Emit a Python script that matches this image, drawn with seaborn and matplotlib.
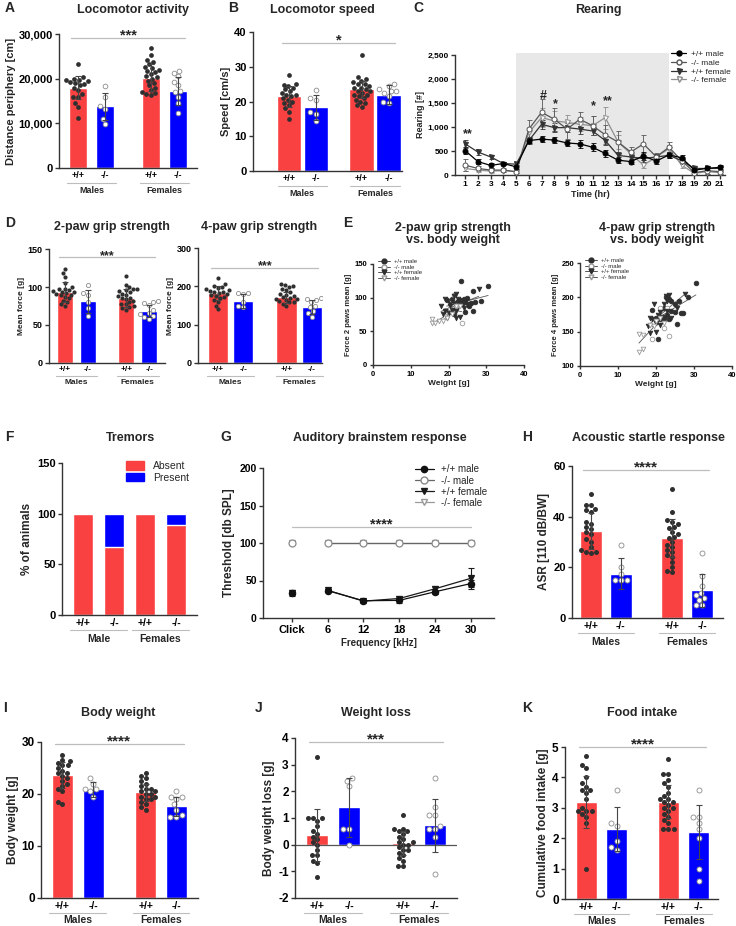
import matplotlib
matplotlib.use('Agg')
import matplotlib.pyplot as plt
import matplotlib.transforms as mtransforms
from matplotlib.patches import Patch
from matplotlib.lines import Line2D
from matplotlib.ticker import StrMethodFormatter
import numpy as np
import pandas as pd
import seaborn as sns

# ---------------- data ----------------
GENO = ['wt_m', 'ko_m', 'wt_f', 'ko_f']
XLABELS = ['+/+', '-/-', '+/+', '-/-']

# A locomotor activity (distance periphery, cm)
loco_pts = [
    [23300, 20300, 20000, 19800, 19600, 19500, 19200, 19000, 18800, 18500, 18000, 17500, 16500, 16000, 15800, 14500, 13700, 11300],
    [18300, 15800, 13800, 13300, 11000, 9800],
    [26800, 25200, 24200, 23800, 23200, 22700, 22300, 22000, 21800, 21500, 21000, 20500, 20300, 20000, 19500, 19000, 18500, 18000, 17500, 17000, 16800, 16500, 16300],
    [21800, 21300, 20500, 19300, 18500, 17200, 17000, 16000, 14500, 12300],
]
loco_mean = [18000, 13800, 20200, 17200]
loco_sd = [2500, 3000, 3000, 3200]

# B locomotor speed (cm/s)
speed_pts = [
    [27.5, 25, 24.8, 24.5, 24, 23.5, 23, 22.5, 22, 22, 21.5, 21, 20.5, 20, 19.5, 19, 18, 17, 15],
    [23.2, 21, 20.5, 17, 16.5, 14.5],
    [33.3, 27, 26.5, 26, 25.5, 25, 25, 24.5, 24, 24, 23.5, 23, 23, 22.5, 22, 22, 21.5, 21, 20.5, 20, 19.5, 19, 18.5],
    [25, 24.5, 23.5, 23, 23, 22.5, 21.5, 20, 19.5],
]
speed_mean = [21.5, 18.3, 23.5, 22.0]
speed_sd = [3.0, 3.6, 2.4, 2.8]

# C rearing per hour
hours = list(range(1, 22))
rear_wt_m = [510, 280, 200, 240, 170, 720, 750, 730, 670, 650, 580, 450, 310, 280, 400, 290, 420, 360, 100, 140, 160]
rear_ko_m = [205, 137, 103, 103, 70, 960, 1310, 1165, 960, 1165, 1030, 840, 690, 480, 650, 380, 580, 300, 50, 90, 70]
rear_wt_f = [650, 480, 377, 240, 226, 720, 1060, 990, 990, 960, 920, 720, 410, 377, 343, 377, 410, 300, 137, 137, 137]
rear_ko_f = [137, 103, 82, 90, 70, 890, 1200, 1130, 1100, 1060, 1030, 1200, 690, 445, 205, 377, 550, 205, 35, 70, 50]
rear_err_wt_m = [80, 60, 50, 40, 40, 60, 70, 70, 70, 80, 80, 80, 60, 60, 80, 60, 60, 60, 40, 40, 40]
rear_err_ko_m = [130, 60, 40, 40, 30, 180, 280, 240, 200, 160, 200, 200, 220, 100, 180, 90, 100, 80, 20, 60, 40]
rear_err_wt_f = [90, 60, 40, 40, 40, 80, 90, 100, 90, 100, 90, 100, 80, 60, 70, 60, 60, 60, 30, 30, 30]
rear_err_ko_f = [60, 40, 30, 30, 30, 100, 200, 200, 150, 150, 200, 230, 150, 80, 60, 60, 80, 60, 20, 40, 20]
rear_stars = [(1.2, 860, '**'), (7.1, 1660, '#'), (8.1, 1480, '*'), (11.1, 1440, '*'), (12.2, 1540, '**')]

# D grip strength
grip2_pts = [
    [124, 118, 113, 105, 100, 98, 97, 96, 95, 94, 93, 92, 91, 90, 89, 87, 85, 82, 80, 77, 75],
    [103, 92, 90, 80, 72, 62],
    [115, 103, 100, 98, 97, 96, 95, 93, 91, 90, 88, 86, 85, 84, 82, 80, 78, 77, 75, 74, 72, 70],
    [81, 80, 79, 76, 70, 66, 64, 62, 60, 58],
]
grip2_mean = [93, 81, 86, 68]
grip2_sd = [13, 15, 12, 8]
grip4_pts = [
    [222, 205, 200, 197, 195, 192, 190, 188, 186, 185, 183, 180, 178, 175, 172, 170, 165, 160, 150, 140],
    [183, 182, 180, 160, 150, 145],
    [205, 203, 200, 198, 193, 190, 185, 180, 178, 175, 172, 170, 168, 166, 165, 162, 160, 158, 155, 150],
    [170, 168, 165, 160, 150, 145, 135, 130, 120],
]
grip4_mean = [183, 162, 171, 147]
grip4_sd = [18, 18, 15, 18]

# E grip strength vs body weight
e2_wt_m_x = [23.3, 30.5, 26.5, 28.5, 25.0, 24.0, 23.0, 22.5, 21.0, 24.5, 26.0, 27.0, 25.5, 24.5, 26.5, 20.0, 19.5, 21.5, 23.5, 22.0]
e2_wt_m_y = [125, 117, 110, 95, 100, 98, 97, 95, 98, 93, 92, 93, 88, 78, 80, 80, 96, 75, 90, 85]
e2_ko_m_x = [23.5, 21.5, 20.0, 19.0, 22.0, 20.5]
e2_ko_m_y = [62, 104, 78, 73, 88, 85]
e2_wt_f_x = [28.0, 22.0, 21.5, 19.0, 18.0, 20.5, 22.0, 18.5, 22.0, 23.0, 19.5, 24.0, 25.0, 21.0, 20.0, 23.5, 19.0, 21.5, 22.5, 20.5]
e2_wt_f_y = [113, 105, 103, 98, 87, 90, 80, 75, 70, 72, 70, 85, 90, 82, 77, 95, 80, 92, 98, 88]
e2_ko_f_x = [15.5, 15.5, 16.5, 17.5, 18.5, 19.5, 21.0, 22.0, 23.0]
e2_ko_f_y = [68, 62, 63, 65, 65, 70, 75, 88, 87]

e4_wt_m_x = [30.5, 28.5, 26.0, 25.0, 24.0, 23.5, 22.5, 26.5, 27.0, 25.5, 20.5, 21.0, 22.0, 23.0, 24.0, 19.0, 20.0, 22.0, 23.5, 25.0]
e4_wt_m_y = [221, 200, 195, 190, 195, 198, 200, 177, 177, 161, 140, 168, 170, 175, 180, 182, 170, 185, 168, 178]
e4_ko_m_x = [21.0, 23.0, 23.5, 19.0, 20.0, 22.0]
e4_ko_m_y = [185, 185, 143, 140, 165, 155]
e4_wt_f_x = [27.5, 23.5, 22.5, 23.0, 19.5, 21.0, 18.0, 18.5, 20.0, 21.0, 22.0, 24.0, 19.0, 20.5, 22.0, 18.5, 25.5, 21.5, 23.0, 20.0]
e4_wt_f_y = [205, 203, 202, 195, 190, 178, 158, 148, 150, 160, 165, 170, 168, 175, 190, 170, 185, 172, 180, 162]
e4_ko_f_x = [15.5, 16.5, 15.5, 16.5, 18.5, 20.0, 21.0, 19.5, 22.0]
e4_ko_f_y = [147, 145, 120, 125, 160, 165, 170, 158, 163]

# F tremors (% of animals)
tremor_absent = [100, 66.7, 100, 88.9]
tremor_present = [0, 33.3, 0, 11.1]

# G auditory brainstem response
freq_labels = ['Click', '6', '12', '18', '24', '30']
abr_wt_m = [34, 36.5, 23, 23.5, 35, 46]
abr_wt_m_err = [4, 2, 2, 3, 3, 5]
abr_wt_f = [34, 37, 22.5, 26, 39, 53]
abr_wt_f_err = [3, 2, 2, 3, 4, 14]
abr_ko_m = [100, 100, 100, 100, 100, 100]
abr_ko_f = [100, 100, 100, 100, 100, 100]

# H acoustic startle
asr_pts = [
    [49, 44.5, 44.5, 43, 42.5, 42, 38, 37, 36, 35, 34, 33, 31, 30, 28, 27, 26, 26, 25.5],
    [29, 20, 17.5, 15, 15, 15],
    [51, 42, 38.5, 38, 37, 36, 35.5, 34, 33, 32, 31.5, 30, 29, 28, 27, 26, 25, 24, 22, 20, 18.5, 18],
    [25.5, 16.5, 12.5, 10, 9, 8, 7, 5, 5],
]
asr_mean = [34.3, 17.5, 31.5, 11.0]
asr_sd = [7.0, 6.0, 7.5, 6.5]

# I body weight
bw_pts = [
    [27.5, 26.5, 26.3, 26, 25.5, 25.5, 25, 24.5, 24, 24, 23.5, 23, 22.5, 22, 21.5, 21, 20.5, 18.5, 18],
    [23, 22, 21, 21, 20.5, 19.5],
    [24, 23.5, 23, 22.5, 22, 21.5, 21, 21, 20.5, 20.5, 20, 20, 19.5, 19.5, 19, 19, 18.5, 18, 17.5, 17],
    [20.5, 19.5, 19.5, 19, 18, 17, 16, 15.5, 15.5],
]
bw_mean = [23.7, 20.9, 20.3, 17.6]
bw_sd = [2.5, 1.5, 1.6, 1.8]

# J weight loss
wl_pts = [
    [3.3, 1.0, 1.0, 1.0, 0.9, 0.7, 0.5, 0.4, 0.3, 0.2, 0.1, 0.0, -0.2, -0.4, -0.4, -0.6, -0.7, -1.2],
    [2.5, 2.4, 2.2, 0.6, 0.6, 0.0],
    [1.1, 0.6, 0.6, 0.5, 0.5, 0.4, 0.3, 0.2, 0.1, 0.1, 0.0, 0.0, -0.1, -0.2, -0.2, -0.3, -0.4, -0.5, -0.6, -0.8, -0.8],
    [2.5, 1.4, 1.1, 1.1, 0.7, 0.6, 0.6, 0.3, -1.1],
]
wl_mean = [0.35, 1.4, 0.05, 0.73]
wl_sd = [0.98, 1.1, 0.45, 1.0]

# K food intake
food_pts = [
    [4.7, 4.4, 4.3, 4.0, 3.8, 3.7, 3.6, 3.6, 3.5, 3.3, 3.0, 2.9, 2.9, 2.9, 2.8, 2.7, 2.5, 1.0],
    [3.6, 2.5, 2.4, 1.9, 1.7, 1.6],
    [4.6, 4.1, 4.1, 3.9, 3.8, 3.7, 3.5, 3.4, 3.3, 3.3, 3.2, 3.2, 3.1, 3.0, 3.0, 2.9, 2.8, 2.7, 2.6, 2.5, 2.3, 2.3, 2.3],
    [3.6, 2.7, 2.7, 2.5, 2.3, 2.0, 1.0, 0.6],
]
food_mean = [3.2, 2.3, 3.2, 2.2]
food_sd = [0.85, 0.73, 0.55, 0.9]

# ---------------- style ----------------
RED, BLUE = '#f94141', '#0000ff'
DOT = '#2f2f2f'
PAL = {'wt_m': RED, 'ko_m': BLUE, 'wt_f': RED, 'ko_f': BLUE}
POS = [0, 1, 2.7, 3.7]

sns.set_style('ticks')
plt.rcParams['font.family'] = ['Liberation Sans', 'DejaVu Sans']
plt.rcParams['font.weight'] = 'bold'
plt.rcParams['axes.labelweight'] = 'bold'
plt.rcParams['axes.edgecolor'] = '#333333'
plt.rcParams['axes.linewidth'] = 1.0
plt.rcParams['axes.unicode_minus'] = False
plt.rcParams['xtick.color'] = '#333333'
plt.rcParams['ytick.color'] = '#333333'
plt.rcParams['xtick.labelcolor'] = 'black'
plt.rcParams['ytick.labelcolor'] = 'black'

W, H = 736, 926
fig = plt.figure(figsize=(W / 100, H / 100), dpi=100)


def box(l, t, r, b):
    return fig.add_axes([l / W, 1 - b / H, (r - l) / W, (b - t) / H])


def ftext(x, y, s, size=9, **kw):
    fig.text(x / W, 1 - y / H, s, fontsize=size, fontweight='bold', ha=kw.pop('ha', 'center'),
             va=kw.pop('va', 'center'), **kw)


def style_axis(ax, tick_fs):
    sns.despine(ax=ax)
    ax.tick_params(axis='y', length=3, width=1, labelsize=tick_fs, pad=1.5)
    ax.tick_params(axis='x', width=1)


def groups_below(ax, pairs, names, fs, offs):
    line_tr = mtransforms.offset_copy(ax.get_xaxis_transform(), fig=fig, y=-offs[0], units='points')
    text_tr = mtransforms.offset_copy(ax.get_xaxis_transform(), fig=fig, y=-offs[1], units='points')
    for (a, b), name in zip(pairs, names):
        ax.plot([a - 0.42, b + 0.42], [0, 0], transform=line_tr, color='#bdbdbd', lw=0.8, clip_on=False)
        ax.text((a + b) / 2, 0, name, transform=text_tr, ha='center', va='center', fontsize=fs)


def sig(ax, x0, x1, y, stars, fs=10.5):
    ax.plot([x0, x1], [y, y], color='#bdbdbd', lw=0.9, clip_on=False, zorder=5)
    ax.annotate(stars, ((x0 + x1) / 2, y), xytext=(0, -1), textcoords='offset points',
                ha='center', va='baseline', fontsize=fs, annotation_clip=False)


def bar_panel(ax, pts, means, sds, ylabel, yticks, sig_y, stars, width=0.68, xlim=(-0.7, 4.4),
              names=('Males', 'Females'), fs=(8, 8, 6.5), offs=(10.5, 16), fmt=None, dot=3.4, star_fs=10.5):
    bars = pd.DataFrame({'pos': POS, 'mean': means, 'geno': GENO})
    sns.barplot(data=bars, x='pos', y='mean', hue='geno', palette=PAL, native_scale=True, width=width,
                saturation=1, errorbar=None, legend=False, ax=ax, zorder=1)
    rows = [(p, v, g) for p, g, vals in zip(POS, GENO, pts) for v in vals]
    df = pd.DataFrame(rows, columns=['pos', 'val', 'geno'])
    wt = df[df['geno'].str.startswith('wt')]
    ko = df[df['geno'].str.startswith('ko')]
    sns.swarmplot(data=wt, x='pos', y='val', native_scale=True, color=DOT, size=dot, linewidth=0,
                  ax=ax, zorder=3, warn_thresh=1)
    sns.swarmplot(data=ko, x='pos', y='val', native_scale=True, color='white', edgecolor='#8c8c8c',
                  linewidth=0.6, size=dot, ax=ax, zorder=3, warn_thresh=1)
    ax.errorbar(POS, means, yerr=sds, fmt='none', ecolor='#454545', elinewidth=0.8, capsize=2.5,
                capthick=0.8, zorder=4)
    ax.set_xlim(*xlim)
    ax.set_ylim(yticks[0], yticks[-1])
    ax.set_yticks(yticks)
    if fmt:
        ax.yaxis.set_major_formatter(StrMethodFormatter(fmt))
    ax.set_xticks(POS)
    ax.set_xticklabels(XLABELS, fontsize=fs[2])
    ax.tick_params(axis='x', length=0, pad=2)
    ax.set_xlabel('')
    ax.set_ylabel(ylabel, fontsize=fs[1], labelpad=2)
    style_axis(ax, fs[0])
    groups_below(ax, [(POS[0], POS[1]), (POS[2], POS[3])], names, fs[2], offs)
    sig(ax, POS[0] - 0.25, POS[3] + 0.25, sig_y, stars, fs=star_fs)


# ---------------- A ----------------
ax = box(59, 34, 197, 168)
bar_panel(ax, loco_pts, loco_mean, loco_sd, 'Distance periphery [cm]', [0, 10000, 20000, 30000],
          29100, '***', width=0.67, fmt='{x:,.0f}')
ftext(133, 10, 'Locomotor activity')
ftext(5, 8, 'A', size=10, ha='left')

# ---------------- B ----------------
ax = box(253, 32, 402, 171)
bar_panel(ax, speed_pts, speed_mean, speed_sd, 'Speed [cm/s]', [0, 10, 20, 30, 40],
          36.8, '*', width=0.9, xlim=(-1.33, 4.2))
ftext(322, 10, 'Locomotor speed')
ftext(228, 8, 'B', size=10, ha='left')

# ---------------- C ----------------
ax = box(455, 53, 725, 175)
ax.axvspan(5, 17, color='#e8e8e8', lw=0, zorder=0)
series = [
    ('-/- female', rear_ko_f, rear_err_ko_f, 'v', 'white', '#8f8f8f', '#8f8f8f'),
    ('+/+ female', rear_wt_f, rear_err_wt_f, 'v', '#333333', '#333333', '#333333'),
    ('-/- male', rear_ko_m, rear_err_ko_m, 'o', 'white', '#555555', '#555555'),
    ('+/+ male', rear_wt_m, rear_err_wt_m, 'o', 'black', 'black', 'black'),
]
for name, vals, errs, mk, fc, ec, lc in series:
    ax.errorbar(hours, vals, yerr=errs, fmt='none', ecolor=lc, elinewidth=0.6, capsize=1.8, capthick=0.6, zorder=2)
    sns.lineplot(x=hours, y=vals, ax=ax, color=lc, lw=0.9, marker=mk, markersize=3.6,
                 markerfacecolor=fc, markeredgecolor=ec, markeredgewidth=0.7, zorder=3)
for hx, hy, s in rear_stars:
    ax.text(hx, hy, s, ha='center', va='center', fontsize=9)
ax.set_xlim(0.2, 21.4)
ax.set_ylim(0, 2550)
ax.set_yticks([0, 500, 1000, 1500, 2000, 2500])
ax.spines['left'].set_bounds(0, 2500)
ax.yaxis.set_major_formatter(StrMethodFormatter('{x:,.0f}'))
ax.set_xticks(hours)
ax.tick_params(axis='x', labelsize=6, length=3, pad=1.5)
style_axis(ax, 6)
ax.set_xlabel('Time (hr)', fontsize=6.5, labelpad=1)
ax.set_ylabel('Rearing [#]', fontsize=6.5, labelpad=2)
c_order = [3, 2, 1, 0]
handles = [Line2D([], [], color=series[i][6], marker=series[i][3], markerfacecolor=series[i][4],
                  markeredgecolor=series[i][5], markersize=3.6, lw=0.9) for i in c_order]
fig.legend(handles, [series[i][0] for i in c_order], loc='upper left',
           bbox_to_anchor=(668 / W, 1 - 47 / H), frameon=False, prop=dict(size=6, weight='normal'),
           handlelength=1.8, labelspacing=0.1, handletextpad=0.6, borderaxespad=0)
ftext(598, 10, 'Rearing')
ftext(413, 8, 'C', size=10, ha='left')

# ---------------- D ----------------
ax = box(49, 249, 165, 363)
bar_panel(ax, grip2_pts, grip2_mean, grip2_sd, 'Mean force [g]', [0, 50, 100, 150], 139, '***',
          width=0.71, xlim=(-0.71, 4.4), fs=(6.5, 6, 6), offs=(9, 14), dot=3.0, star_fs=9)
ftext(112, 227, '2-paw grip strength')
ax = box(198, 248, 322, 363)
bar_panel(ax, grip4_pts, grip4_mean, grip4_sd, 'Mean force [g]', [0, 100, 200, 300], 248, '***',
          width=0.8, xlim=(-0.78, 4.1), fs=(6.5, 6, 6), offs=(9, 14), dot=3.0, star_fs=9)
ftext(259, 227, '4-paw grip strength')
ftext(5, 223, 'D', size=10, ha='left')

# ---------------- E ----------------
e_styles = [
    ('+/+ male', 'o', DOT, DOT),
    ('-/- male', 'o', 'white', '#9a9a9a'),
    ('+/+ female', 'v', DOT, DOT),
    ('-/- female', 'v', 'white', '#9a9a9a'),
]


def scatter_panel(ax, xs, ys, ylim, yticks, ylabel):
    for x, y, (name, mk, fc, ec) in zip(xs, ys, e_styles):
        sns.regplot(x=np.array(x), y=np.array(y), scatter=False, ci=None, ax=ax,
                    line_kws=dict(color='#555555', lw=0.6))
        sns.scatterplot(x=x, y=y, marker=mk, color=fc, edgecolor=ec, linewidth=0.6, s=11, ax=ax, zorder=3)
    ax.set_xlim(0, 40)
    ax.set_ylim(*ylim)
    ax.set_xticks([0, 10, 20, 30, 40])
    ax.set_yticks(yticks)
    ax.tick_params(axis='x', labelsize=5.5, length=2.5, pad=1.5)
    style_axis(ax, 5.5)
    ax.tick_params(axis='y', length=2.5)
    ax.set_xlabel('Weight [g]', fontsize=6, labelpad=2)
    ax.set_ylabel(ylabel, fontsize=5.5, labelpad=2)
    hs = [Line2D([], [], color='#555555', lw=0.7, marker=mk, markerfacecolor=fc, markeredgecolor=ec, markersize=3.5)
          for _, mk, fc, ec in e_styles]
    ax.legend(hs, [s[0] for s in e_styles], loc='upper left', bbox_to_anchor=(0.02, 1.07), frameon=False,
              prop=dict(size=4.3, weight='normal'), handlelength=2.0, labelspacing=0.05, handletextpad=0.6,
              borderaxespad=0)


ax = box(373, 264, 524, 365)
scatter_panel(ax, [e2_wt_m_x, e2_ko_m_x, e2_wt_f_x, e2_ko_f_x], [e2_wt_m_y, e2_ko_m_y, e2_wt_f_y, e2_ko_f_y],
              (0, 150), [0, 50, 100, 150], 'Force 2 paws mean [g]')
ftext(453, 234, '2-paw grip strength\nvs. body weight', linespacing=1.05)
ax = box(580, 263, 732, 366)
scatter_panel(ax, [e4_wt_m_x, e4_ko_m_x, e4_wt_f_x, e4_ko_f_x], [e4_wt_m_y, e4_ko_m_y, e4_wt_f_y, e4_ko_f_y],
              (100, 250), [100, 150, 200, 250], 'Force 4 paws mean [g]')
ftext(657, 234, '4-paw grip strength\nvs. body weight', linespacing=1.05)
ftext(343, 223, 'E', size=10, ha='left')

# ---------------- F ----------------
ax = box(62, 463, 197, 615)
cats = ['wt_m', 'ko_m', 'wt_f', 'ko_f']
total = [a + p for a, p in zip(tremor_absent, tremor_present)]
sns.barplot(x=cats, y=total, color=BLUE, saturation=1, width=0.65, ax=ax)
sns.barplot(x=cats, y=tremor_absent, color=RED, saturation=1, width=0.65, ax=ax)
ax.set_xlim(-0.68, 3.68)
ax.set_ylim(0, 150)
ax.set_yticks([0, 50, 100, 150])
ax.set_xticks(range(4))
ax.set_xticklabels(XLABELS, fontsize=7.5)
ax.tick_params(axis='x', length=0, pad=2)
style_axis(ax, 8)
ax.set_ylabel('% of animals', fontsize=8.5, labelpad=3)
groups_below(ax, [(0, 1), (2, 3)], ['Male', 'Females'], 7.5, (11, 17))
ax.legend([Patch(color=RED), Patch(color=BLUE)], ['Absent', 'Present'], loc='upper left',
          bbox_to_anchor=(0.44, 1.04), frameon=False, prop=dict(size=7.5, weight='normal'),
          handlelength=1.8, handleheight=0.9, labelspacing=0.15, handletextpad=0.8, borderaxespad=0)
ftext(130, 438, 'Tremors')
ftext(5, 437, 'F', size=10, ha='left')

# ---------------- G ----------------
ax = box(263, 468, 494, 618)
fpos = list(range(len(freq_labels)))
g_series = [
    ('-/- female', abr_ko_f, None, 'v', 'white', '#9a9a9a', '#9a9a9a', 4.5),
    ('-/- male', abr_ko_m, None, 'o', 'white', '#8a8a8a', '#666666', 5.0),
    ('+/+ female', abr_wt_f, abr_wt_f_err, 'v', '#1a1a1a', '#1a1a1a', '#1a1a1a', 4.5),
    ('+/+ male', abr_wt_m, abr_wt_m_err, 'o', '#111111', '#111111', '#111111', 4.5),
]
for name, vals, errs, mk, fc, ec, lc, ms in g_series:
    if errs is not None:
        ax.errorbar(fpos, vals, yerr=errs, fmt='none', ecolor=lc, elinewidth=0.8, capsize=2.2, capthick=0.8, zorder=2)
    sns.lineplot(x=fpos[1:], y=vals[1:], ax=ax, color=lc, lw=0.9, marker=mk, markersize=ms,
                 markerfacecolor=fc, markeredgecolor=ec, markeredgewidth=0.9, zorder=3)
    ax.plot(fpos[:1], vals[:1], ls='none', marker=mk, markersize=ms, markerfacecolor=fc,
            markeredgecolor=ec, markeredgewidth=0.9, zorder=3)
ax.set_xlim(-0.8, 5.64)
ax.set_ylim(0, 200)
ax.set_yticks([0, 50, 100, 150, 200])
ax.set_xticks(fpos)
ax.set_xticklabels(freq_labels, fontsize=8)
ax.tick_params(axis='x', length=3, pad=2)
style_axis(ax, 7.5)
ax.set_xlabel('Frequency [kHz]', fontsize=7, labelpad=2)
ax.set_ylabel('Threshold [db SPL]', fontsize=8.5, labelpad=3)
sig(ax, 0, 5, 121, '****', fs=10.5)
g_order = [3, 1, 2, 0]
gh = [Line2D([], [], color=g_series[i][6], lw=0.9, marker=g_series[i][3], markerfacecolor=g_series[i][4],
             markeredgecolor=g_series[i][5], markersize=g_series[i][7]) for i in g_order]
ax.legend(gh, [g_series[i][0] for i in g_order], loc='upper left', bbox_to_anchor=(0.64, 1.05), frameon=False,
          prop=dict(size=7, weight='normal'), handlelength=2.0, labelspacing=0.12, handletextpad=0.7,
          borderaxespad=0)
ftext(380, 438, 'Auditory brainstem response')
ftext(220, 437, 'G', size=10, ha='left')

# ---------------- H ----------------
ax = box(572, 466, 723, 618)
bar_panel(ax, asr_pts, asr_mean, asr_sd, 'ASR [110 dB/BW]', [0, 20, 40, 60], 58.4, '****',
          width=0.73, xlim=(-0.63, 4.4), fs=(8, 8.5, 7.5), offs=(11, 17), dot=3.6, star_fs=11)
ftext(648, 438, 'Acoustic startle response')
ftext(522, 437, 'H', size=10, ha='left')

# ---------------- I ----------------
ax = box(41, 742, 198, 898)
bar_panel(ax, bw_pts, bw_mean, bw_sd, 'Body weight [g]', [0, 10, 20, 30], 29.6, '****',
          width=0.68, xlim=(-0.69, 4.4), fs=(8.5, 8.5, 7.5), offs=(10.5, 16), dot=3.6, star_fs=11)
ftext(118, 713, 'Body weight')
ftext(3, 708, 'I', size=10, ha='left')

# ---------------- J ----------------
ax = box(295, 738, 457, 898)
bar_panel(ax, wl_pts, wl_mean, wl_sd, 'Body weight loss [g]', [-2, -1, 0, 1, 2, 3, 4], 3.85, '***',
          width=0.69, xlim=(-0.7, 4.4), fs=(8.5, 8.5, 7.5), offs=(10.5, 16), dot=3.6, star_fs=11)
ax.axhline(0, color='#555555', lw=0.9, zorder=2)
ftext(376, 713, 'Weight loss')
ftext(255, 708, 'J', size=10, ha='left')

# ---------------- K ----------------
ax = box(565, 747, 718, 899)
bar_panel(ax, food_pts, food_mean, food_sd, 'Cumulative food intake [g]', [0, 1, 2, 3, 4, 5], 5.0, '****',
          width=0.69, xlim=(-0.7, 4.33), fs=(8.5, 8.5, 7.5), offs=(10.5, 16), dot=3.6, star_fs=11)
ftext(642, 713, 'Food intake')
ftext(522, 708, 'K', size=10, ha='left')

fig.savefig('out.png', dpi=100)
